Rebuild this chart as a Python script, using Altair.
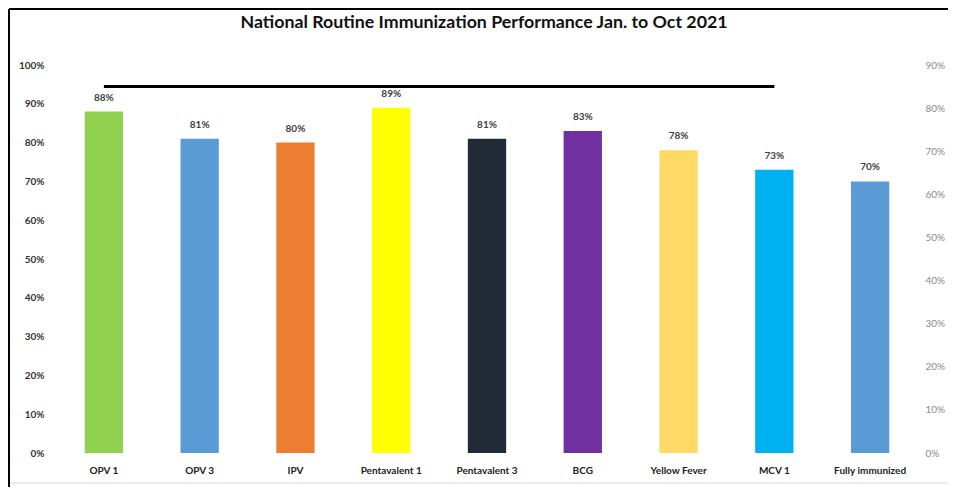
import altair as alt
import pandas as pd

categories = ["OPV 1", "OPV 3", "IPV", "Pentavalent 1", "Pentavalent 3",
              "BCG", "Yellow Fever", "MCV 1", "Fully immunized"]
coverage = [88, 81, 80, 89, 81, 83, 78, 73, 70]
bar_colors = ["#92D050", "#5B9BD5", "#ED7D31", "#FFFF00", "#222A35",
              "#7030A0", "#FFD966", "#00B0F0", "#5B9BD5"]
target_value = [85]
target_start = ["OPV 1"]
target_end = ["MCV 1"]
left_ticks = list(range(0, 101, 10))
right_ticks = list(range(0, 91, 10))
title_text = ["National Routine Immunization Performance Jan. to Oct 2021"]

W, H = 862, 388
FONT = "Lato"

df = pd.DataFrame({
    "cat": categories,
    "value": coverage,
    "color": bar_colors,
    "label": [f"{v}%" for v in coverage],
})
df_t = pd.DataFrame({"start": target_start, "end": target_end, "value": target_value})
df_one = pd.DataFrame({"k": [0]})
df_title = pd.DataFrame({"t": title_text})

xscale = alt.Scale(domain=categories, paddingInner=0.6, paddingOuter=0.3)
xaxis = alt.Axis(title=None, labelAngle=0, labelFontWeight="bold", labelFontSize=10,
                 labelColor="#222222", labelPadding=12, ticks=False, domain=False,
                 labelFont=FONT)
yaxis_left = alt.Axis(title=None, values=left_ticks, labelExpr="datum.value + '%'",
                      labelFontWeight="bold", labelFontSize=10, labelColor="#333333",
                      labelPadding=12, ticks=False, domain=False, grid=False,
                      labelFont=FONT)

bars = alt.Chart(df).mark_bar().encode(
    x=alt.X("cat:N", sort=categories, scale=xscale, axis=xaxis),
    y=alt.Y("value:Q", scale=alt.Scale(domain=[0, 100]), axis=yaxis_left),
    color=alt.Color("color:N", scale=None),
)
labels = alt.Chart(df).mark_text(baseline="bottom", dy=-9, fontWeight="bold", fontSize=10,
                                 color="#404040", font=FONT).encode(
    x=alt.X("cat:N", sort=categories, scale=xscale, axis=xaxis),
    y=alt.Y("value:Q", scale=alt.Scale(domain=[0, 100]), axis=yaxis_left),
    text="label:N",
)
inner = alt.layer(bars, labels)

target = alt.Chart(df_t).mark_rule(strokeWidth=3, color="black").encode(
    x=alt.X("start:N", sort=categories, scale=xscale, axis=xaxis),
    x2="end:N",
    y=alt.Y("value:Q", scale=alt.Scale(domain=[0, 90]),
            axis=alt.Axis(orient="right", title=None, values=right_ticks,
                          labelExpr="datum.value + '%'", labelFontSize=10,
                          labelColor="#8a8a8a", labelPadding=7, ticks=False,
                          domain=False, grid=False, labelFont=FONT)),
)

title = alt.Chart(df_title).mark_text(fontSize=17.8, fontWeight="bold", font=FONT,
                                      color="#111111", baseline="middle",
                                      align="center").encode(
    x=alt.value(428), y=alt.value(-42), text="t:N")

frame_left = alt.Chart(df_one).mark_rule(color="black", strokeWidth=2).encode(
    x=alt.value(-47), y=alt.value(-56), y2=alt.value(425))
frame_top = alt.Chart(df_one).mark_rule(color="black", strokeWidth=2).encode(
    x=alt.value(-47), x2=alt.value(900), y=alt.value(-56))
sheet_line = alt.Chart(df_one).mark_rule(color="#d9d9d9", strokeWidth=1).encode(
    x=alt.value(-46), x2=alt.value(900), y=alt.value(418))

chart = alt.layer(inner, target, title, frame_left, frame_top, sheet_line).resolve_scale(
    y="independent"
).properties(
    width=W, height=H,
    autosize=alt.AutoSizeParams(type="none"),
    padding={"left": 48, "top": 57, "right": 30, "bottom": 34},
).configure_view(stroke=None)

chart.save("out.html", embed_options={"renderer": "svg", "actions": False})
